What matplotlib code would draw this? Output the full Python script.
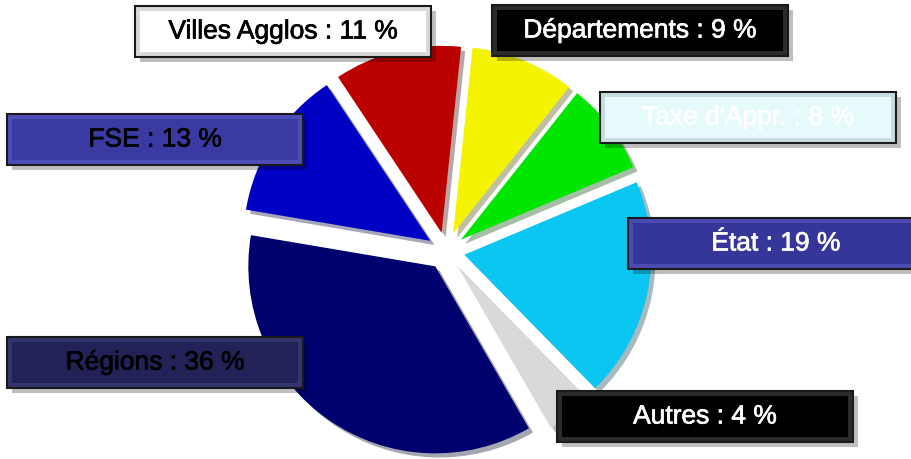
import matplotlib
matplotlib.use("Agg")
import matplotlib.pyplot as plt
from matplotlib.patches import Rectangle
import matplotlib.patheffects as pe

# parts of the budget (percent), clockwise from the top
categories = ["Départements", "Taxe d'Appr.", "État", "Autres", "Régions", "FSE", "Villes Agglos"]
shares = [9, 8, 19, 4, 36, 13, 11]
slice_colors = ["#f4f400", "#00e600", "#0cc6f2", "#d9d9d9", "#00006e", "#0000c4", "#bb0000"]

# label boxes: (left, top) in image pixels, fill, bevel colour, text colour
box_pos = [(492, 6), (600, 93), (628, 219), (557, 392), (7, 338), (7, 115), (135, 7)]
box_fill = ["#000000", "#e6f9fb", "#36369a", "#000000", "#222259", "#3a3aa2", "#ffffff"]
box_bevel = ["#2b2b2b", "#c9dde0", "#4b4bb2", "#2b2b2b", "#34346e", "#4d4db8", "#d9d9d9"]
text_col = ["white", "white", "white", "white", "black", "black", "black"]

W, H = 912, 460
fig = plt.figure(figsize=(W / 100, H / 100), dpi=100)
ax = fig.add_axes([0, 0, 1, 1])

radius = 187
wedges, _ = ax.pie(shares, colors=slice_colors, startangle=84, counterclock=False,
                   center=(446, H - 252), radius=radius,
                   explode=[0.1 * radius] * len(shares),
                   wedgeprops=dict(linewidth=0))
for w in wedges:
    w.set_path_effects([pe.SimplePatchShadow(offset=(3, -3), alpha=0.35), pe.Normal()])
ax.set_xlim(0, W)
ax.set_ylim(0, H)
ax.set_aspect("equal")
ax.axis("off")

bw, bh, bev = 296, 51, 5
for cat, val, (x, y), fc, bc, tc in zip(categories, shares, box_pos, box_fill, box_bevel, text_col):
    y0 = H - y - bh
    ax.add_patch(Rectangle((x + 5, y0 - 5), bw, bh, facecolor="#000000", alpha=0.25,
                           linewidth=0, zorder=3))
    ax.add_patch(Rectangle((x, y0), bw, bh, facecolor=bc, edgecolor="#1a1a1a",
                           linewidth=1.5, zorder=4))
    ax.add_patch(Rectangle((x + bev, y0 + bev), bw - 2 * bev, bh - 2 * bev,
                           facecolor=fc, linewidth=0, zorder=5))
    ax.text(x + bw / 2, y0 + bh / 2, f"{cat} : {val} %", color=tc, fontsize=19,
            family="Liberation Sans", ha="center", va="center", zorder=6,
            path_effects=[pe.withStroke(linewidth=0.5, foreground=tc)])

fig.savefig("out.png", dpi=100)
